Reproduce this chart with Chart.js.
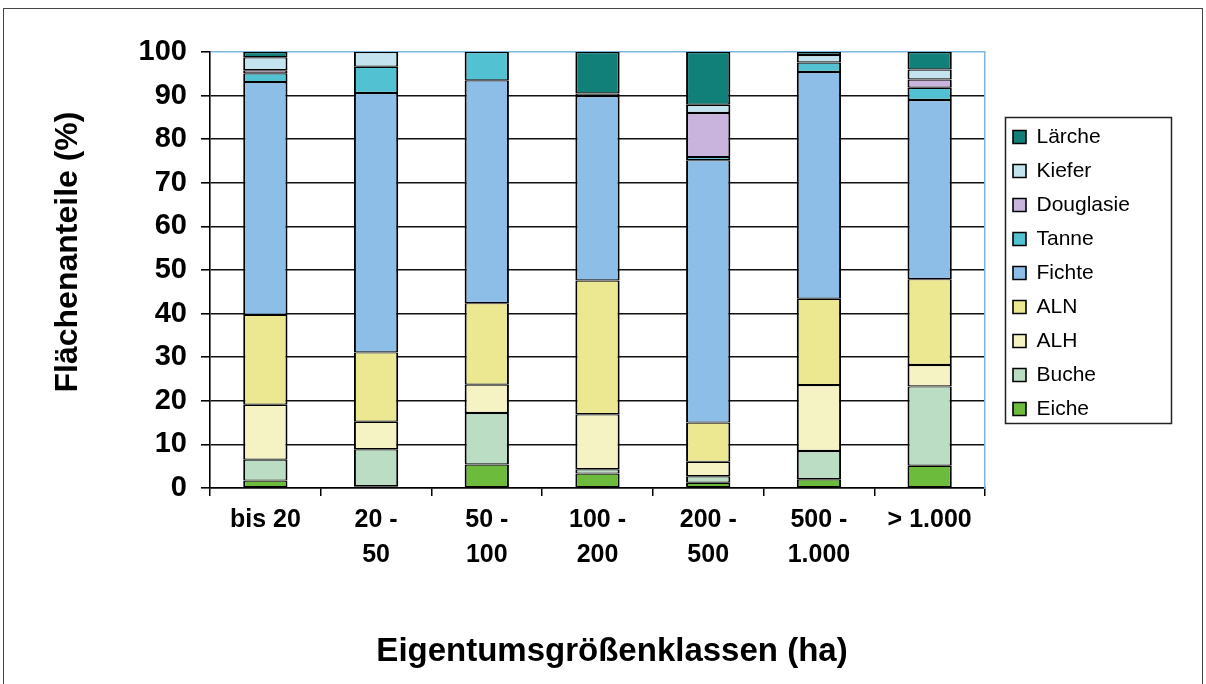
<!DOCTYPE html>
<html><head><meta charset="utf-8">
<script src="https://cdn.jsdelivr.net/npm/chart.js@4.4.1/dist/chart.umd.min.js"></script>
<style>
html,body{margin:0;padding:0;background:#fff;}
#wrap{position:relative;width:1206px;height:684px;overflow:hidden;background:#fff;}
#frame{position:absolute;left:3px;top:8px;width:1200px;height:700px;border:1px solid #444;box-sizing:border-box;}
canvas{position:absolute;left:0;top:0;}
</style></head><body>
<div id="wrap"><div id="frame"></div><canvas id="c" width="1206" height="684"></canvas></div>
<script>
const categories = ["bis 20", ["20 -", "50"], ["50 -", "100"], ["100 -", "200"], ["200 -", "500"], ["500 -", "1.000"], "> 1.000"];
const yTicks = [0, 10, 20, 30, 40, 50, 60, 70, 80, 90, 100];
const xTitle = "Eigentumsgrößenklassen (ha)";
const yTitle = "Flächenanteile (%)";

const eiche     = [1.7, 0.4, 5.4, 3.3, 1.2, 2.0, 5.1];
const buche     = [4.8, 8.5, 11.8, 1.0, 1.5, 6.5, 18.2];
const alh       = [12.6, 6.3, 6.5, 12.6, 3.3, 15.1, 4.9];
const aln       = [20.6, 15.9, 18.7, 30.7, 9.0, 19.8, 19.7];
const fichte    = [53.4, 59.5, 51.1, 42.3, 60.2, 52.0, 41.1];
const tanne     = [2.0, 6.0, 6.5, 0, 0.7, 2.2, 2.8];
const douglasie = [0.7, 0, 0, 0, 10.1, 0, 1.9];
const kiefer    = [3.0, 3.4, 0, 0.6, 1.9, 1.7, 2.3];
const laerche   = [1.2, 0, 0, 9.5, 12.1, 0.7, 4.0];

const seriesNames = ["Eiche", "Buche", "ALH", "ALN", "Fichte", "Tanne", "Douglasie", "Kiefer", "Lärche"];
const seriesData = [eiche, buche, alh, aln, fichte, tanne, douglasie, kiefer, laerche];
const seriesColors = ["#6cbb3c", "#bbddc3", "#f5f3c4", "#ece891", "#8cbee8", "#52c2d2", "#c8b4dc", "#c3e4ee", "#108078"];

const FONT = '"Liberation Sans", Arial, sans-serif';
Chart.defaults.font.family = FONT;
Chart.defaults.color = '#000';

const datasets = seriesNames.map((n, i) => ({
  label: n,
  data: seriesData[i],
  backgroundColor: seriesColors[i],
  borderColor: '#000',
  borderWidth: {top: 1.2, bottom: 1.2, left: 2, right: 2},
  borderSkipped: false,
  barPercentage: 0.4,
  categoryPercentage: 1.0,
  yAxisID: 'y'
}));

const layoutPlugin = {
  id: 'customLayout',
  afterLayout(chart) {
    const lg = chart.legend;
    if (lg) {
      lg.left = 1000; lg.right = 1200; lg.width = 200;
      lg.top = 106; lg.bottom = 440; lg.height = 334;
    }
  },
  afterDraw(chart) {
    const ctx = chart.ctx;
    ctx.save();
    ctx.strokeStyle = '#222';
    ctx.lineWidth = 1.5;
    ctx.strokeRect(1005.5, 117.5, 166, 306);
    ctx.fillStyle = '#000';
    ctx.textAlign = 'center';
    ctx.textBaseline = 'alphabetic';
    ctx.font = 'bold 33px ' + FONT;
    ctx.fillText(xTitle, 612, 661);
    ctx.translate(77, 252);
    ctx.rotate(-Math.PI / 2);
    ctx.font = 'bold 32px ' + FONT;
    ctx.fillText(yTitle, 0, 0);
    ctx.restore();
  }
};

new Chart(document.getElementById('c'), {
  type: 'bar',
  data: { labels: categories, datasets },
  options: {
    responsive: false,
    animation: false,
    devicePixelRatio: 1,
    layout: { padding: { left: 0, top: 52, right: 221, bottom: 0 } },
    plugins: {
      legend: {
        position: 'chartArea',
        reverse: true,
        labels: {
          boxWidth: 13, boxHeight: 13, padding: 13,
          color: '#000',
          font: { size: 21, family: FONT }
        }
      },
      tooltip: { enabled: false }
    },
    scales: {
      x: {
        stacked: true,
        offset: true,
        grid: { offset: true, drawOnChartArea: false, drawTicks: true, tickLength: 8, color: '#000', lineWidth: 1.5 },
        border: { color: '#000', width: 1.5 },
        ticks: { color: '#000', font: { size: 25, weight: 'bold', lineHeight: 1.4 }, padding: 7, maxRotation: 0, autoSkip: false },
        afterFit: s => { s.height = 196; }
      },
      y: {
        stacked: true,
        min: 0, max: 100,
        afterBuildTicks: s => { s.ticks = yTicks.map(v => ({ value: v })); },
        ticks: { color: '#000', font: { size: 29, weight: 'bold' }, padding: 14 },
        grid: {
          color: c => (c.tick && c.tick.value === 100) ? '#7ab8de' : '#111',
          lineWidth: 1.6, tickLength: 9, tickColor: '#000'
        },
        border: { color: '#000', width: 1.6 },
        afterFit: s => { s.width = 210; }
      },
      y2: {
        position: 'right',
        min: 0, max: 100,
        ticks: { display: false },
        grid: { drawOnChartArea: false, drawTicks: false },
        border: { color: '#7ab8de', width: 1.5 },
        afterFit: s => { s.width = 0; }
      }
    }
  },
  plugins: [layoutPlugin]
});
</script>
</body></html>
